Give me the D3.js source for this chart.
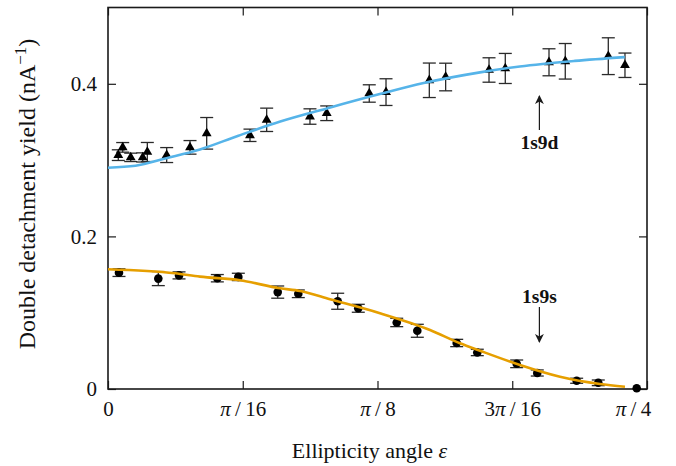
<!DOCTYPE html>
<html>
<head>
<meta charset="utf-8">
<script src="https://cdn.jsdelivr.net/npm/d3@7"></script>
<style>
  html, body { margin: 0; padding: 0; background: #fff; }
  svg text { font-family: "Liberation Serif", "DejaVu Serif", serif; fill: #111; }
</style>
</head>
<body>
<svg id="chart" width="676" height="466"></svg>
<script>
// 1s9d measurements: ellipticity angle (rad), yield (nA^-1), error
const epsD   = [0.015, 0.0214, 0.0331, 0.0506, 0.0573, 0.0855, 0.1195, 0.1438, 0.2069, 0.2312, 0.2943,
                0.3187, 0.3807, 0.4051, 0.4682, 0.4920, 0.5552, 0.5789, 0.6426, 0.6663, 0.7290, 0.7533];
const yieldD = [0.3065, 0.3167, 0.3036, 0.3035, 0.3106, 0.3066, 0.3167, 0.3351, 0.3325, 0.3528, 0.3571,
                0.3614, 0.3873, 0.3891, 0.4046, 0.4089, 0.4181, 0.4201, 0.4282, 0.4295, 0.4362, 0.4243];
const errD   = [0.0070, 0.0063, 0.0055, 0.0060, 0.0125, 0.0098, 0.0089, 0.0207, 0.0081, 0.0153, 0.0101,
                0.0096, 0.0114, 0.0175, 0.0226, 0.0181, 0.0160, 0.0197, 0.0177, 0.0233, 0.0241, 0.0160];

// 1s9s measurements
const epsS   = [0.016, 0.0733, 0.1035, 0.1593, 0.1899, 0.2473, 0.2773, 0.3347, 0.3647, 0.4207, 0.4507,
                0.5081, 0.5381, 0.5955, 0.6255, 0.6829, 0.7144, 0.7704];
const yieldS = [0.1525, 0.1447, 0.1489, 0.1452, 0.1469, 0.1270, 0.1248, 0.1150, 0.1058, 0.0872, 0.0763,
                0.0603, 0.0479, 0.0330, 0.0210, 0.0108, 0.0081, 0.0010];
const errS   = [0.0050, 0.0092, 0.0046, 0.0048, 0.0048, 0.0080, 0.0050, 0.0105, 0.0052, 0.0055, 0.0085,
                0.0048, 0.0042, 0.0050, 0.0040, 0.0033, 0.0037, 0.0000];

// Theory curves
const fitEpsD   = [0, 0.04, 0.085, 0.134, 0.19, 0.251, 0.32, 0.396, 0.46, 0.542, 0.60, 0.68, 0.753];
const fitYieldD = [0.290, 0.2925, 0.3025, 0.314, 0.332, 0.3505, 0.368, 0.3865, 0.401, 0.415, 0.4227, 0.430, 0.435];
const fitEpsS   = [0, 0.0976, 0.134, 0.1923, 0.2506, 0.2798, 0.3235, 0.3963, 0.4692, 0.5129, 0.542, 0.6003, 0.6586, 0.7169, 0.7533];
const fitYieldS = [0.157, 0.1517, 0.1473, 0.1425, 0.132, 0.1285, 0.1176, 0.0993, 0.0774, 0.060, 0.0502, 0.0315, 0.0161, 0.0066, 0.003];

// Axis ticks
const xTickValues = [0, Math.PI / 16, Math.PI / 8, 3 * Math.PI / 16, Math.PI / 4];
const xTickLabels = [["0", "", ""], ["", "π", "\u2009/\u200916"], ["", "π", "\u2009/\u20098"],
                     ["3", "π", "\u2009/\u200916"], ["", "π", "\u2009/\u20094"]];
const yTickValues = [0, 0.2, 0.4];
const yTickLabels = ["0", "0.2", "0.4"];

const svg = d3.select("#chart");
const L = 108, R = 647, T = 7.5, B = 389;
const x = d3.scaleLinear().domain([0, Math.PI / 4]).range([L, R]);
const y = d3.scaleLinear().domain([0, 0.5]).range([B, T]);

const blue = "#56B4E9", orange = "#E69F00", ink = "#1a1a1a";

// Axes with inward ticks on all four sides
const tick = 8;
const gB = svg.append("g").attr("transform", `translate(0,${B})`)
  .call(d3.axisBottom(x).tickValues(xTickValues).tickSizeInner(-tick).tickSizeOuter(0).tickPadding(12));
const gT = svg.append("g").attr("transform", `translate(0,${T})`)
  .call(d3.axisTop(x).tickValues(xTickValues).tickSizeInner(-tick).tickSizeOuter(0).tickFormat(() => ""));
const gL = svg.append("g").attr("transform", `translate(${L},0)`)
  .call(d3.axisLeft(y).tickValues(yTickValues).tickSizeInner(-tick).tickSizeOuter(0).tickPadding(11)
    .tickFormat((d, i) => yTickLabels[i]));
const gR = svg.append("g").attr("transform", `translate(${R},0)`)
  .call(d3.axisRight(y).tickValues(yTickValues).tickSizeInner(-tick).tickSizeOuter(0).tickFormat(() => ""));

[gB, gT, gL, gR].forEach(g => {
  g.attr("font-family", "Liberation Serif");
  g.select(".domain").remove();
  g.selectAll(".tick line").attr("stroke", ink).attr("stroke-width", 1.2);
  g.selectAll("text").style("font-size", "21px").attr("fill", "#111");
});

// π-fraction labels on the x axis
gB.selectAll(".tick text").each(function (d, i) {
  const t = d3.select(this).text("");
  const parts = xTickLabels[i];
  t.append("tspan").text(parts[0]);
  t.append("tspan").attr("font-style", "italic").text(parts[1]);
  t.append("tspan").text(parts[2]);
  if (i === xTickLabels.length - 1) t.attr("dx", -14);
});

// Frame
svg.append("rect").attr("x", L).attr("y", T).attr("width", R - L).attr("height", B - T)
  .attr("fill", "none").attr("stroke", ink).attr("stroke-width", 1.6);

// Error bars
function errorBars(eps, val, err) {
  const g = svg.append("g").attr("stroke", "#2a2a2a").attr("stroke-width", 1.3).attr("fill", "none");
  const cap = 6.5;
  eps.forEach((e, i) => {
    if (err[i] <= 0) return;
    const cx = x(e), y0 = y(val[i] - err[i]), y1 = y(val[i] + err[i]);
    g.append("line").attr("x1", cx).attr("x2", cx).attr("y1", y0).attr("y2", y1);
    g.append("line").attr("x1", cx - cap).attr("x2", cx + cap).attr("y1", y0).attr("y2", y0);
    g.append("line").attr("x1", cx - cap).attr("x2", cx + cap).attr("y1", y1).attr("y2", y1);
  });
}
errorBars(epsD, yieldD, errD);
errorBars(epsS, yieldS, errS);

// Markers
const tri = d3.symbol().type(d3.symbolTriangle).size(42);
svg.append("g").selectAll("path").data(epsD).join("path")
  .attr("d", tri).attr("fill", "#000")
  .attr("transform", (d, i) => `translate(${x(d)},${y(yieldD[i])})`);
svg.append("g").selectAll("circle").data(epsS).join("circle")
  .attr("cx", d => x(d)).attr("cy", (d, i) => y(yieldS[i])).attr("r", 4.3).attr("fill", "#000");

// Theory curves
const line = d3.line().curve(d3.curveMonotoneX);
svg.append("path")
  .attr("d", line(fitEpsD.map((e, i) => [x(e), y(fitYieldD[i])])))
  .attr("fill", "none").attr("stroke", blue).attr("stroke-width", 2.6);
svg.append("path")
  .attr("d", line(fitEpsS.map((e, i) => [x(e), y(fitYieldS[i])])))
  .attr("fill", "none").attr("stroke", orange).attr("stroke-width", 2.6);

// Annotations with arrows
svg.append("defs").append("marker").attr("id", "ah")
  .attr("viewBox", "0 0 10 10").attr("refX", 9).attr("refY", 5)
  .attr("markerWidth", 9).attr("markerHeight", 9).attr("markerUnits", "userSpaceOnUse")
  .attr("orient", "auto")
  .append("path").attr("d", "M0,0 L10,5 L0,10 L3,5 Z").attr("fill", ink);

const annX = x(0.6286);
svg.append("line").attr("x1", annX).attr("x2", annX).attr("y1", 130).attr("y2", 96)
  .attr("stroke", ink).attr("stroke-width", 1.2).attr("marker-end", "url(#ah)");
svg.append("text").attr("x", annX).attr("y", 149).attr("text-anchor", "middle")
  .style("font-size", "19.5px").attr("font-weight", "bold").text("1s9d");

svg.append("line").attr("x1", annX).attr("x2", annX).attr("y1", 307).attr("y2", 342)
  .attr("stroke", ink).attr("stroke-width", 1.2).attr("marker-end", "url(#ah)");
svg.append("text").attr("x", annX).attr("y", 303).attr("text-anchor", "middle")
  .style("font-size", "19.5px").attr("font-weight", "bold").text("1s9s");

// Axis titles
const xt = svg.append("text").attr("x", (L + R) / 2 - 8).attr("y", 458).attr("text-anchor", "middle")
  .style("font-size", "22px");
xt.append("tspan").text("Ellipticity angle ");
xt.append("tspan").attr("font-style", "italic").text("ε");

const yt = svg.append("text").attr("transform", "translate(35,194) rotate(-90)")
  .attr("text-anchor", "middle").style("font-size", "24px");
yt.append("tspan").text("Double detachment yield (nA");
yt.append("tspan").attr("dy", -9).style("font-size", "17px").text("−1");
yt.append("tspan").attr("dy", 9).text(")");
</script>
</body>
</html>
